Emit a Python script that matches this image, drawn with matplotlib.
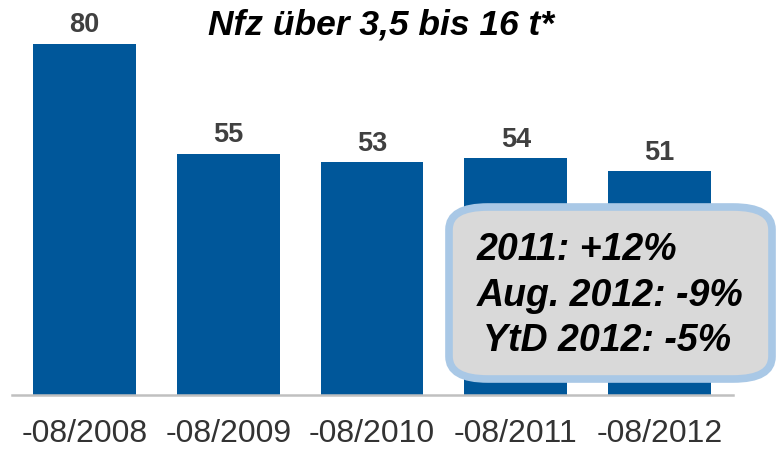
import matplotlib.pyplot as plt
from matplotlib.patches import FancyBboxPatch

plt.rcParams['font.family'] = ['Liberation Sans', 'DejaVu Sans']

periods = ["-08/2008", "-08/2009", "-08/2010", "-08/2011", "-08/2012"]
values = [80, 55, 53, 54, 51]
title = "Nfz über 3,5 bis 16 t*"
notes = ["2011: +12%", "Aug. 2012: -9%", "YtD 2012: -5%"]

W, H = 778, 449
fig = plt.figure(figsize=(W / 100, H / 100), dpi=100)

# axes placed in pixel terms: baseline at y=395, x from 12 to 733
base_px = 395
scale = (395 - 44) / 80
ymax = 88
top_px = base_px - ymax * scale
ax = fig.add_axes([12 / W, (H - base_px) / H, (733 - 12) / W, (base_px - top_px) / H])

x = list(range(len(values)))
bars = ax.bar(x, values, width=0.715, color="#00579A", zorder=2)
ax.set_xlim(-0.504, 4.51)
ax.set_ylim(0, ymax)

for xi, v in zip(x, values):
    ax.annotate(str(v), (xi, v), xytext=(0, 4), textcoords="offset points",
                ha="center", va="bottom", fontsize=19.5, fontweight="bold",
                color="#404040")

for s in ["top", "right", "left"]:
    ax.spines[s].set_visible(False)
ax.spines["bottom"].set_color("#C0C0C0")
ax.spines["bottom"].set_linewidth(1.8)
ax.set_yticks([])
ax.set_xticks(x)
ax.set_xticklabels(periods, fontsize=23, color="#333333")
ax.tick_params(axis="x", length=0, pad=17)

fig.text(381 / W, 1 - 25 / H, title, ha="center", va="center", fontsize=25.5,
         fontweight="bold", fontstyle="italic", color="black")

# callout box
box = FancyBboxPatch((449 / W, 1 - 379 / H), (772 - 449) / W, (379 - 207) / H,
                     boxstyle="round,pad=0,rounding_size=0.05",
                     transform=fig.transFigure, facecolor="#D9D9D9",
                     edgecolor="#A9C8E6", linewidth=5.5, zorder=5)
fig.patches.append(box)

note_x = [477, 477, 483]
for i, t in enumerate(notes):
    fig.text(note_x[i] / W, 1 - (250 + 45.5 * i) / H, t, ha="left", va="center",
             fontsize=27, fontweight="bold", fontstyle="italic",
             color="black", zorder=6)

fig.savefig("out.png", dpi=100)
